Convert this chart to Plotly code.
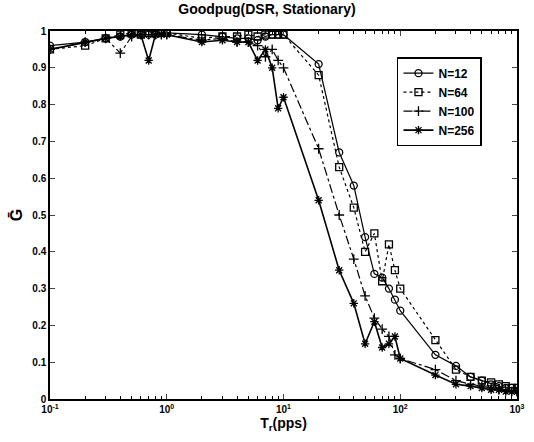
import plotly.graph_objects as go

x_vals = [0.1, 0.2, 0.3, 0.4, 0.5, 0.6, 0.7, 0.8, 0.9, 1, 2, 3, 4, 5, 6, 7, 8, 9, 10,
          20, 30, 40, 50, 60, 70, 80, 90, 100, 200, 300, 400, 500, 600, 700, 800, 900, 1000]

n12 = [0.96, 0.97, 0.98, 0.985, 0.99, 0.99, 0.99, 0.99, 0.995, 0.995, 0.99, 0.985, 0.98, 0.98, 0.975, 0.985, 0.99, 0.99, 0.99,
       0.91, 0.67, 0.58, 0.44, 0.34, 0.33, 0.30, 0.27, 0.24, 0.12, 0.09, 0.06, 0.05, 0.04, 0.035, 0.03, 0.03, 0.03]
n64 = [0.95, 0.96, 0.98, 0.99, 0.995, 0.99, 0.995, 0.995, 0.995, 0.995, 0.98, 0.985, 0.985, 0.99, 0.985, 0.99, 0.99, 0.99, 0.99,
       0.88, 0.63, 0.52, 0.40, 0.45, 0.32, 0.42, 0.35, 0.30, 0.16, 0.08, 0.06, 0.05, 0.045, 0.04, 0.035, 0.03, 0.03]
n100 = [0.95, 0.97, 0.98, 0.94, 0.985, 0.99, 0.99, 0.99, 0.99, 0.99, 0.975, 0.98, 0.97, 0.97, 0.96, 0.93, 0.95, 0.92, 0.90,
        0.68, 0.50, 0.38, 0.28, 0.22, 0.19, 0.17, 0.12, 0.11, 0.08, 0.05, 0.04, 0.035, 0.03, 0.025, 0.025, 0.02, 0.02]
n256 = [0.95, 0.97, 0.98, 0.985, 0.99, 0.99, 0.92, 0.99, 0.99, 0.99, 0.97, 0.975, 0.97, 0.97, 0.92, 0.95, 0.90, 0.79, 0.82,
        0.54, 0.35, 0.26, 0.15, 0.21, 0.14, 0.15, 0.17, 0.11, 0.065, 0.04, 0.035, 0.03, 0.025, 0.025, 0.02, 0.02, 0.02]

series = [
    ("N=12", n12, "circle-open", "solid", 1.2),
    ("N=64", n64, "square-open", "dot", 1.2),
    ("N=100", n100, "cross-thin-open", "dashdot", 1.2),
    ("N=256", n256, "asterisk-open", "solid", 1.6),
]

x_tickvals = [0.1, 1, 10, 100, 1000]
x_ticktext = ["<b>10<sup>-1</sup></b>", "<b>10<sup>0</sup></b>", "<b>10<sup>1</sup></b>",
              "<b>10<sup>2</sup></b>", "<b>10<sup>3</sup></b>"]
x_minor = [m * 10 ** e for e in range(-1, 3) for m in range(2, 10)]
y_tickvals = [0, 0.1, 0.2, 0.3, 0.4, 0.5, 0.6, 0.7, 0.8, 0.9, 1]
y_ticktext = ["<b>0</b>", "<b>0.1</b>", "<b>0.2</b>", "<b>0.3</b>", "<b>0.4</b>", "<b>0.5</b>",
              "<b>0.6</b>", "<b>0.7</b>", "<b>0.8</b>", "<b>0.9</b>", "<b>1</b>"]

fig = go.Figure()
for name, ys, sym, dash, lw in series:
    fig.add_trace(go.Scatter(
        x=x_vals, y=ys, name="<b>" + name + "</b>", mode="lines+markers",
        line=dict(color="black", width=lw, dash=dash),
        marker=dict(symbol=sym, size=7, color="black", line=dict(color="black", width=1.3)),
    ))

font_main = "Liberation Sans, Arial, sans-serif"
fig.update_layout(
    width=534, height=442,
    margin=dict(l=50, r=9, t=31, b=43),
    paper_bgcolor="white", plot_bgcolor="white",
    font=dict(family=font_main, color="black", size=11),
    title=dict(text="<b>Goodpug(DSR, Stationary)</b>", x=0.5, xanchor="center",
               y=0.99, yanchor="top", font=dict(size=14, family=font_main)),
    showlegend=True,
    legend=dict(x=0.743, y=0.929, xanchor="left", yanchor="top",
                bordercolor="black", borderwidth=1.5, bgcolor="white",
                font=dict(size=12, family=font_main), tracegroupgap=0,
                itemwidth=30),
    xaxis=dict(type="log", range=[-1, 3], tickvals=x_tickvals, ticktext=x_ticktext,
               ticks="inside", ticklen=5, tickwidth=1.2, mirror="ticks",
               showline=True, linecolor="black", linewidth=1.5, showgrid=False, zeroline=False,
               tickfont=dict(size=10, family=font_main),
               minor=dict(tickvals=x_minor, ticks="inside", ticklen=3, tickcolor="black", showgrid=False),
               title=dict(text="<b>T<sub>r</sub>(pps)</b>", standoff=4, font=dict(size=14))),
    yaxis=dict(range=[0, 1], tickvals=y_tickvals, ticktext=y_ticktext,
               ticks="inside", ticklen=5, tickwidth=1.2, mirror="ticks",
               showline=True, linecolor="black", linewidth=1.5, showgrid=False, zeroline=False,
               tickfont=dict(size=10, family=font_main),
               title=dict(text="<b>Ḡ</b>", standoff=6, font=dict(size=16))),
)

fig.write_html("out.html")
